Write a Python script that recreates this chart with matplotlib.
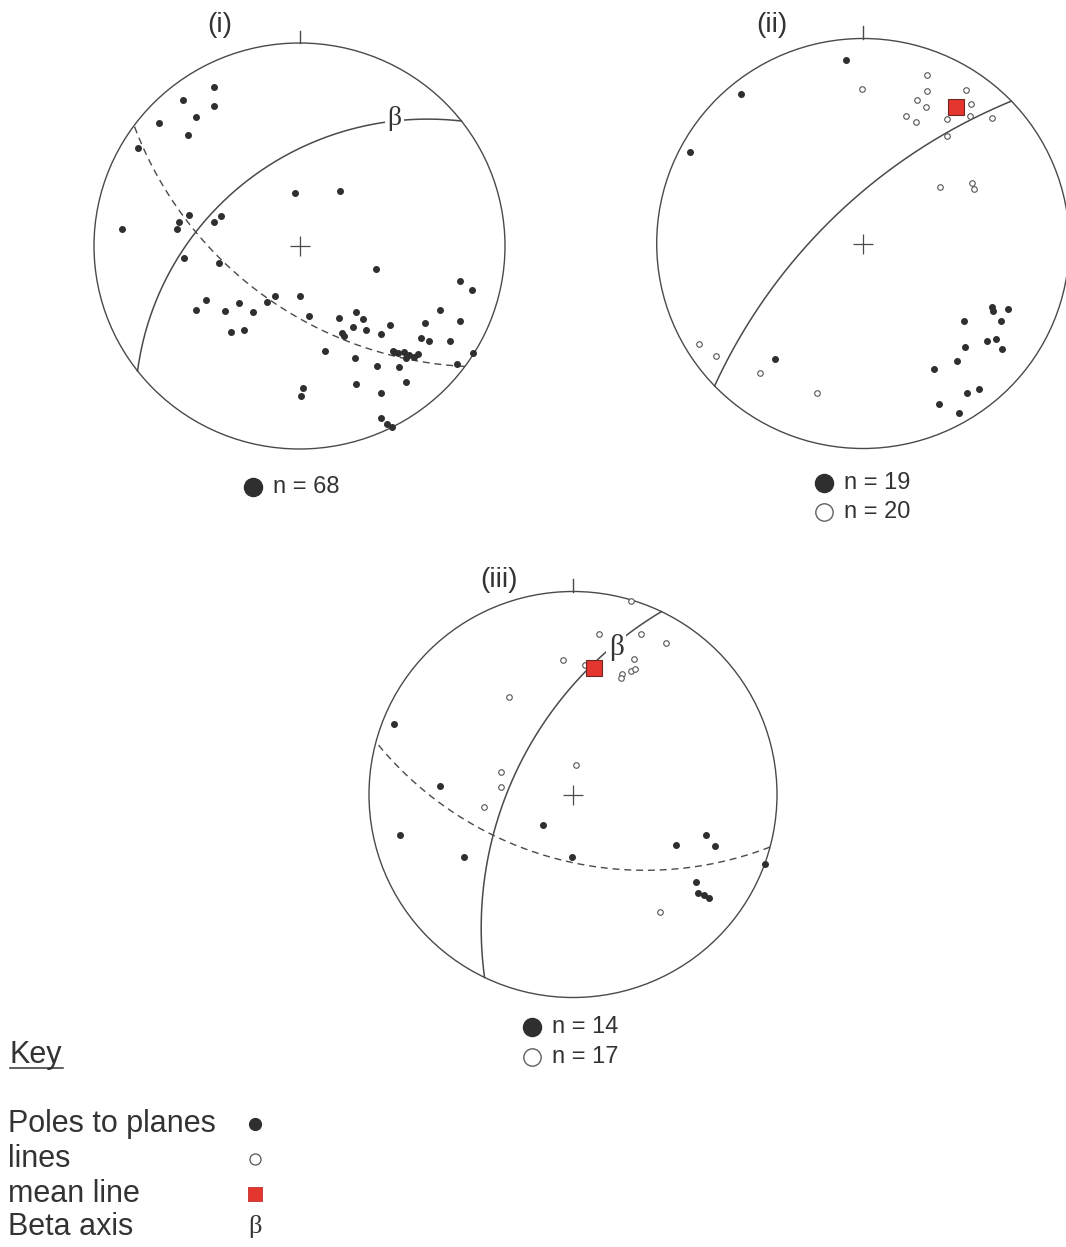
import numpy as np
import matplotlib
matplotlib.use("Agg")
import matplotlib.pyplot as plt
from matplotlib.patches import Circle

W, H = 1066, 1247
DPI = 100

# ---------------- data (projected positions, unit primitive circle; x = East, y = North) -------------
# Net (i)
poles_i_x = [-0.418, -0.569, -0.417, -0.503, -0.683, -0.542, -0.784, -0.021, 0.199, -0.863,
             -0.536, -0.588, -0.598, -0.417, -0.381, -0.560, -0.392, 0.371, 0.779, 0.837,
             -0.119, 0.003, -0.454, -0.503, -0.364, -0.294, -0.225, -0.157, -0.332, -0.271,
             0.044, 0.191, 0.276, 0.310, 0.685, 0.779, 0.440, 0.613, 0.261, 0.322,
             0.208, 0.395, 0.592, 0.632, 0.730, 0.123, 0.453, 0.477, 0.510, 0.534,
             0.556, 0.575, 0.270, 0.379, 0.482, 0.768, 0.845, 0.276, 0.518, 0.016,
             0.007, 0.399, 0.399, 0.425, 0.450, 0.461, 0.518, 0.216]
poles_i_y = [0.784, 0.719, 0.691, 0.637, 0.605, 0.549, 0.484, 0.263, 0.271, 0.083,
             0.152, 0.119, 0.082, 0.119, 0.147, -0.057, -0.082, -0.114, -0.172, -0.216,
             -0.245, -0.245, -0.265, -0.317, -0.319, -0.281, -0.327, -0.278, -0.425, -0.415,
             -0.343, -0.355, -0.325, -0.358, -0.314, -0.368, -0.387, -0.379, -0.400, -0.415,
             -0.428, -0.433, -0.453, -0.469, -0.469, -0.518, -0.518, -0.529, -0.523, -0.539,
             -0.547, -0.534, -0.551, -0.592, -0.596, -0.583, -0.529, -0.681, -0.670, -0.698,
             -0.739, -0.722, -0.845, -0.877, -0.890, -0.523, -0.551, -0.441]
gc_i_solid = (322.0, 45.4)     # dip direction, dip
gc_i_dashed = (216.4, 56.6)
beta_i = (0.461, 0.626)

# Net (ii)
poles_ii_x = [-0.081, -0.591, -0.841, 0.623, 0.631, 0.701, 0.667, 0.490, 0.647, 0.602,
              0.675, 0.494, 0.458, 0.343, -0.427, 0.502, 0.563, 0.369, 0.466]
poles_ii_y = [0.893, 0.728, 0.448, -0.312, -0.328, -0.319, -0.380, -0.377, -0.464, -0.477,
              -0.515, -0.505, -0.574, -0.610, -0.563, -0.731, -0.709, -0.785, -0.828]
lines_ii_x = [0.312, -0.003, 0.312, 0.498, 0.264, 0.307, 0.523, 0.210, 0.259, 0.405,
              0.518, 0.626, 0.405, 0.372, 0.526, 0.537, -0.796, -0.712, -0.498, -0.223]
lines_ii_y = [0.822, 0.752, 0.744, 0.748, 0.699, 0.668, 0.680, 0.623, 0.594, 0.607,
              0.620, 0.610, 0.523, 0.275, 0.296, 0.267, -0.490, -0.550, -0.631, -0.728]
mean_ii = (0.453, 0.667)
gc_ii_solid = (316.0, 68.5)

# Net (iii)
poles_iii_x = [-0.879, -0.654, -0.850, -0.534, -0.147, -0.005, 0.503, 0.654, 0.694, 0.940,
               0.601, 0.613, 0.642, 0.667]
poles_iii_y = [0.348, 0.041, -0.201, -0.310, -0.150, -0.306, -0.250, -0.201, -0.253, -0.343,
               -0.430, -0.487, -0.495, -0.510]
lines_iii_x = [0.127, 0.335, 0.458, -0.049, 0.057, 0.299, 0.286, 0.306, 0.240, 0.234,
               -0.315, 0.013, -0.351, -0.351, -0.438, 0.425, 0.286]
lines_iii_y = [0.792, 0.789, 0.747, 0.662, 0.637, 0.667, 0.609, 0.616, 0.593, 0.572,
               0.479, 0.147, 0.109, 0.038, -0.062, -0.577, 0.955]
mean_iii = (0.103, 0.621)
gc_iii_solid = (295.7, 56.6)
gc_iii_dashed = (195.0, 53.8)
beta_iii = (0.212, 0.725)

titles = ["(i)", "(ii)", "(iii)"]
counts_i = ["n = 68"]
counts_ii = ["n = 19", "n = 20"]
counts_iii = ["n = 14", "n = 17"]
key_labels = ["Poles to planes", "lines", "mean line", "Beta axis"]

# ---------------- style ----------------
SANS = ["Liberation Sans", "DejaVu Sans"]
SERIF = ["Liberation Serif", "DejaVu Serif"]
DARK = "#2f2f2f"
LINEC = "#4a4a4a"
TXT = "#333333"
RED = "#e5352f"

fig = plt.figure(figsize=(W / DPI, H / DPI), dpi=DPI)
fig.patch.set_facecolor("white")

# background axes in pixel coordinates for legend items / labels
bg = fig.add_axes([0, 0, 1, 1])
bg.set_xlim(0, W)
bg.set_ylim(H, 0)
bg.axis("off")


def great_circle(dipdir, dip, n=500):
    a = np.radians(dipdir)
    d = np.radians(dip)
    s = np.array([np.sin(a - np.pi / 2), np.cos(a - np.pi / 2), 0.0])
    v = np.array([np.sin(a) * np.cos(d), np.cos(a) * np.cos(d), np.sin(d)])
    th = np.linspace(0, np.pi, n)
    vec = np.outer(np.cos(th), s) + np.outer(np.sin(th), v)
    return vec[:, 0] / (1 + vec[:, 2]), vec[:, 1] / (1 + vec[:, 2])


def make_net(cx, cy, rx, ry):
    ax = fig.add_axes([(cx - rx) / W, 1 - (cy + ry) / H, 2 * rx / W, 2 * ry / H])
    ax.set_xlim(-1, 1)
    ax.set_ylim(-1, 1)
    ax.axis("off")
    ax.add_patch(Circle((0, 0), 1.0, fill=False, ec=LINEC, lw=1.0, clip_on=False))
    ax.plot([0, 0], [1, 1.06], color=LINEC, lw=1.0, clip_on=False)
    ax.plot([0], [0], marker="+", ms=14, mew=0.9, color=LINEC, clip_on=False)
    return ax


def plot_poles(ax, xs, ys, ms=4.0):
    ax.plot(xs, ys, "o", ms=ms, color=DARK, mec=DARK, clip_on=False, zorder=4)


def plot_lines(ax, xs, ys, ms=4.0):
    ax.plot(xs, ys, "o", ms=ms, mfc="white", mec="#555555", mew=0.8, clip_on=False, zorder=4)


def plot_gc(ax, gc, dashed=False):
    x, y = great_circle(*gc)
    if dashed:
        ax.plot(x, y, color=LINEC, lw=1.0, ls=(0, (5, 3.5)), clip_on=False, zorder=2)
    else:
        ax.plot(x, y, color=LINEC, lw=1.1, clip_on=False, zorder=2)


def beta(ax, pos, size):
    ax.text(pos[0], pos[1], "β", fontsize=size, family=SERIF, color=TXT,
            ha="center", va="center", zorder=5,
            bbox=dict(boxstyle="square,pad=0.08", fc="white", ec="none"))


def mean_sq(ax, pos):
    ax.plot([pos[0]], [pos[1]], "s", ms=11.5, mfc=RED, mec="#6a2a22", mew=0.8, zorder=6,
            clip_on=False)


# ---- net (i)
ax1 = make_net(299.5, 246.0, 205.5, 203.0)
plot_gc(ax1, gc_i_solid)
plot_gc(ax1, gc_i_dashed, dashed=True)
plot_poles(ax1, poles_i_x, poles_i_y)
beta(ax1, beta_i, 20)

# ---- net (ii)
ax2 = make_net(863.0, 243.5, 206.3, 205.0)
plot_gc(ax2, gc_ii_solid)
plot_poles(ax2, poles_ii_x, poles_ii_y)
plot_lines(ax2, lines_ii_x, lines_ii_y)
mean_sq(ax2, mean_ii)

# ---- net (iii)
ax3 = make_net(573.0, 794.5, 204.0, 203.0)
plot_gc(ax3, gc_iii_solid)
plot_gc(ax3, gc_iii_dashed, dashed=True)
plot_poles(ax3, poles_iii_x, poles_iii_y)
plot_lines(ax3, lines_iii_x, lines_iii_y)
mean_sq(ax3, mean_iii)
beta(ax3, beta_iii, 21)

# ---- titles
for txt, (px, py) in zip(titles, [(220, 25), (772, 25), (499, 580)]):
    bg.text(px, py, txt, fontsize=20, family=SANS, color=TXT, ha="center", va="center")


# ---- counts
def count_row(x, y, label, filled, ms=13):
    if filled:
        bg.plot([x], [y], "o", ms=ms, color=DARK)
    else:
        bg.plot([x], [y], "o", ms=ms - 0.5, mfc="white", mec="#606060", mew=1.0)
    bg.text(x + 20, y, label, fontsize=17, family=SANS, color=TXT, ha="left", va="center")


count_row(253, 487, counts_i[0], True)
count_row(824, 483, counts_ii[0], True)
count_row(824, 512, counts_ii[1], False)
count_row(532, 1027, counts_iii[0], True)
count_row(532, 1057, counts_iii[1], False)

# ---- key
bg.text(9, 1055, "Key", fontsize=22, family=SANS, color=TXT, ha="left", va="center")
bg.plot([10, 63], [1068, 1068], color=TXT, lw=1.1)
key_y = [1124, 1159, 1194, 1227]
for lab, yy in zip(key_labels, key_y):
    bg.text(8, yy, lab, fontsize=22, family=SANS, color=TXT, ha="left", va="center")
bg.plot([255], [key_y[0]], "o", ms=8.5, color=DARK)
bg.plot([255], [key_y[1]], "o", ms=8, mfc="white", mec="#555555", mew=0.9)
bg.plot([255], [key_y[2]], "s", ms=9.5, mfc=RED, mec="#c03030", mew=0.6)
bg.text(255, key_y[3], "β", fontsize=19, family=SERIF, color=TXT, ha="center", va="center")

fig.savefig("out.png", dpi=DPI, facecolor="white")
